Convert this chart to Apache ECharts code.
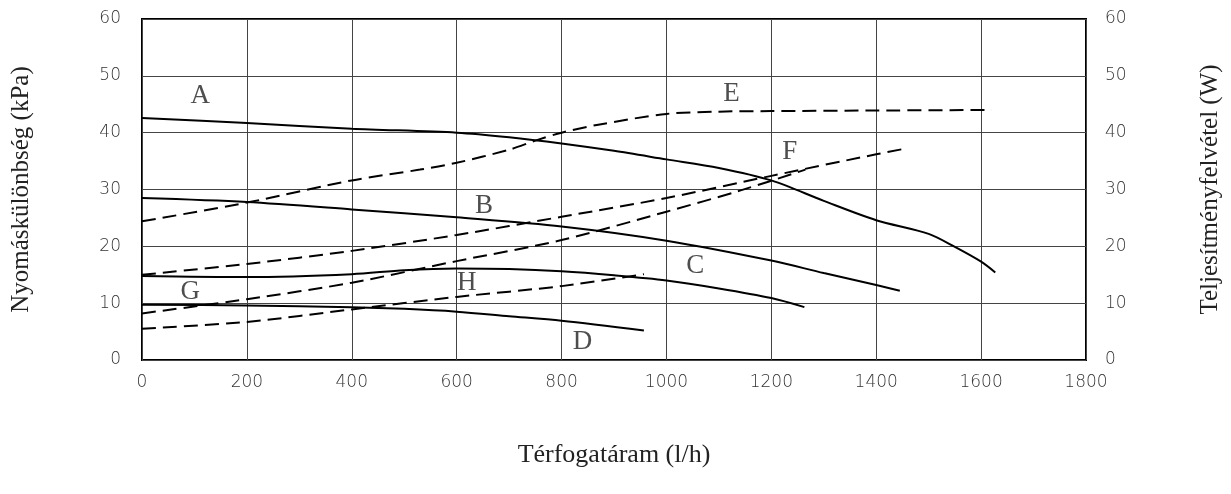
<!DOCTYPE html>
<html>
<head>
<meta charset="utf-8">
<script src="https://cdn.jsdelivr.net/npm/echarts@6/dist/echarts.min.js"></script>
<style>
html,body{margin:0;padding:0;background:#fff;}
#chart{width:1231px;height:494px;}
</style>
</head>
<body>
<div id="chart"></div>
<script>
// Pressure curves (kPa) - solid
const curveA = [[0,42.6],[200,41.7],[400,40.7],[600,40.0],[700,39.2],[800,38.1],[900,36.8],[1000,35.3],[1100,33.8],[1200,31.6],[1300,28.0],[1400,24.6],[1500,22.2],[1550,19.9],[1600,17.3],[1627,15.4]];
const curveB = [[0,28.5],[200,27.8],[400,26.5],[600,25.1],[800,23.5],[1000,21.0],[1200,17.5],[1300,15.3],[1400,13.2],[1445,12.2]];
const curveC = [[0,14.8],[200,14.6],[400,15.1],[500,15.8],[600,16.1],[700,16.0],[800,15.6],[900,14.9],[1000,14.0],[1100,12.6],[1200,10.9],[1263,9.3]];
const curveD = [[0,9.7],[200,9.6],[400,9.3],[500,9.0],[600,8.5],[700,7.7],[800,6.9],[957,5.2]];
// Power curves (W) - dashed
const curveE = [[0,24.4],[200,27.7],[400,31.6],[530,33.5],[600,34.7],[700,37.0],[750,38.6],[800,40.0],[870,41.4],[1000,43.3],[1100,43.7],[1200,43.8],[1400,43.9],[1620,44.0]];
const curveF = [[0,15.0],[200,16.9],[400,19.2],[600,22.0],[800,25.2],[1000,28.5],[1200,32.4],[1400,36.2],[1450,37.1]];
const curveG = [[0,8.2],[200,10.7],[400,13.6],[600,17.4],[800,21.1],[1000,26.1],[1140,29.8],[1265,33.5]];
const curveH = [[0,5.5],[200,6.7],[400,8.9],[600,11.1],[800,13.0],[957,15.1]];
// Curve letter labels [x, y, text]
const curveLabels = [[111,46.5,'A'],[652,27.1,'B'],[1055,16.5,'C'],[840,3.1,'D'],[1124,46.8,'E'],[1235,36.7,'F'],[92,12.0,'G'],[619,13.6,'H']];
const xTitle = 'Térfogatáram (l/h)';
const yLeftTitle = 'Nyomáskülönbség (kPa)';
const yRightTitle = 'Teljesítményfelvétel (W)';

const serif = '"Liberation Serif", "DejaVu Serif", serif';
const sans = '"DejaVu Sans", sans-serif';
const tickLabel = {fontFamily:sans, fontSize:17, fontWeight:200, color:'#333'};

function solid(data){
  return {type:'line', data:data, yAxisIndex:0, smooth:0.3, showSymbol:false, symbol:'none',
    lineStyle:{color:'#000', width:2}, z:3, animation:false};
}
function dashed(data){
  return {type:'line', data:data, yAxisIndex:1, smooth:0.3, showSymbol:false, symbol:'none',
    lineStyle:{color:'#000', width:2, type:[14,7]}, z:3, animation:false};
}

const chart = echarts.init(document.getElementById('chart'), null, {renderer:'canvas'});
const yCommon = {
  type:'value', min:0, max:60, interval:10,
  axisLine:{show:false}, axisTick:{show:false},
  nameLocation:'middle', nameRotate:90,
  nameTextStyle:{fontFamily:serif, fontSize:25, color:'#222'}
};
chart.setOption({
  animation:false,
  backgroundColor:'#fff',
  grid:{left:142, right:145, top:19, bottom:134, show:true, borderColor:'#000', borderWidth:2, backgroundColor:'transparent'},
  xAxis:{
    type:'value', min:0, max:1800, interval:200,
    name:xTitle, nameLocation:'middle', nameGap:82,
    nameTextStyle:{fontFamily:serif, fontSize:26, color:'#222'},
    axisLine:{show:false}, axisTick:{show:false},
    axisLabel:Object.assign({margin:14, formatter:v => String(v)}, tickLabel),
    splitLine:{show:true, lineStyle:{color:'#444', width:1}}
  },
  yAxis:[
    Object.assign({}, yCommon, {
      position:'left', name:yLeftTitle, nameGap:108,
      axisLabel:Object.assign({margin:21, formatter:v => String(v)}, tickLabel),
      splitLine:{show:true, lineStyle:{color:'#444', width:1}}
    }),
    Object.assign({}, yCommon, {
      position:'right', name:yRightTitle, nameGap:112,
      axisLabel:Object.assign({margin:19, formatter:v => String(v)}, tickLabel),
      splitLine:{show:false}
    })
  ],
  series:[
    solid(curveA), solid(curveB), solid(curveC), solid(curveD),
    dashed(curveE), dashed(curveF), dashed(curveG), dashed(curveH),
    {
      type:'scatter', yAxisIndex:0, symbolSize:0, z:5, animation:false,
      data:curveLabels.map(d => ({value:[d[0], d[1]], name:d[2]})),
      label:{show:true, position:'inside', formatter:p => p.name,
        fontFamily:serif, fontSize:27, color:'#222'},
      emphasis:{disabled:true}
    }
  ]
});
</script>
</body>
</html>
